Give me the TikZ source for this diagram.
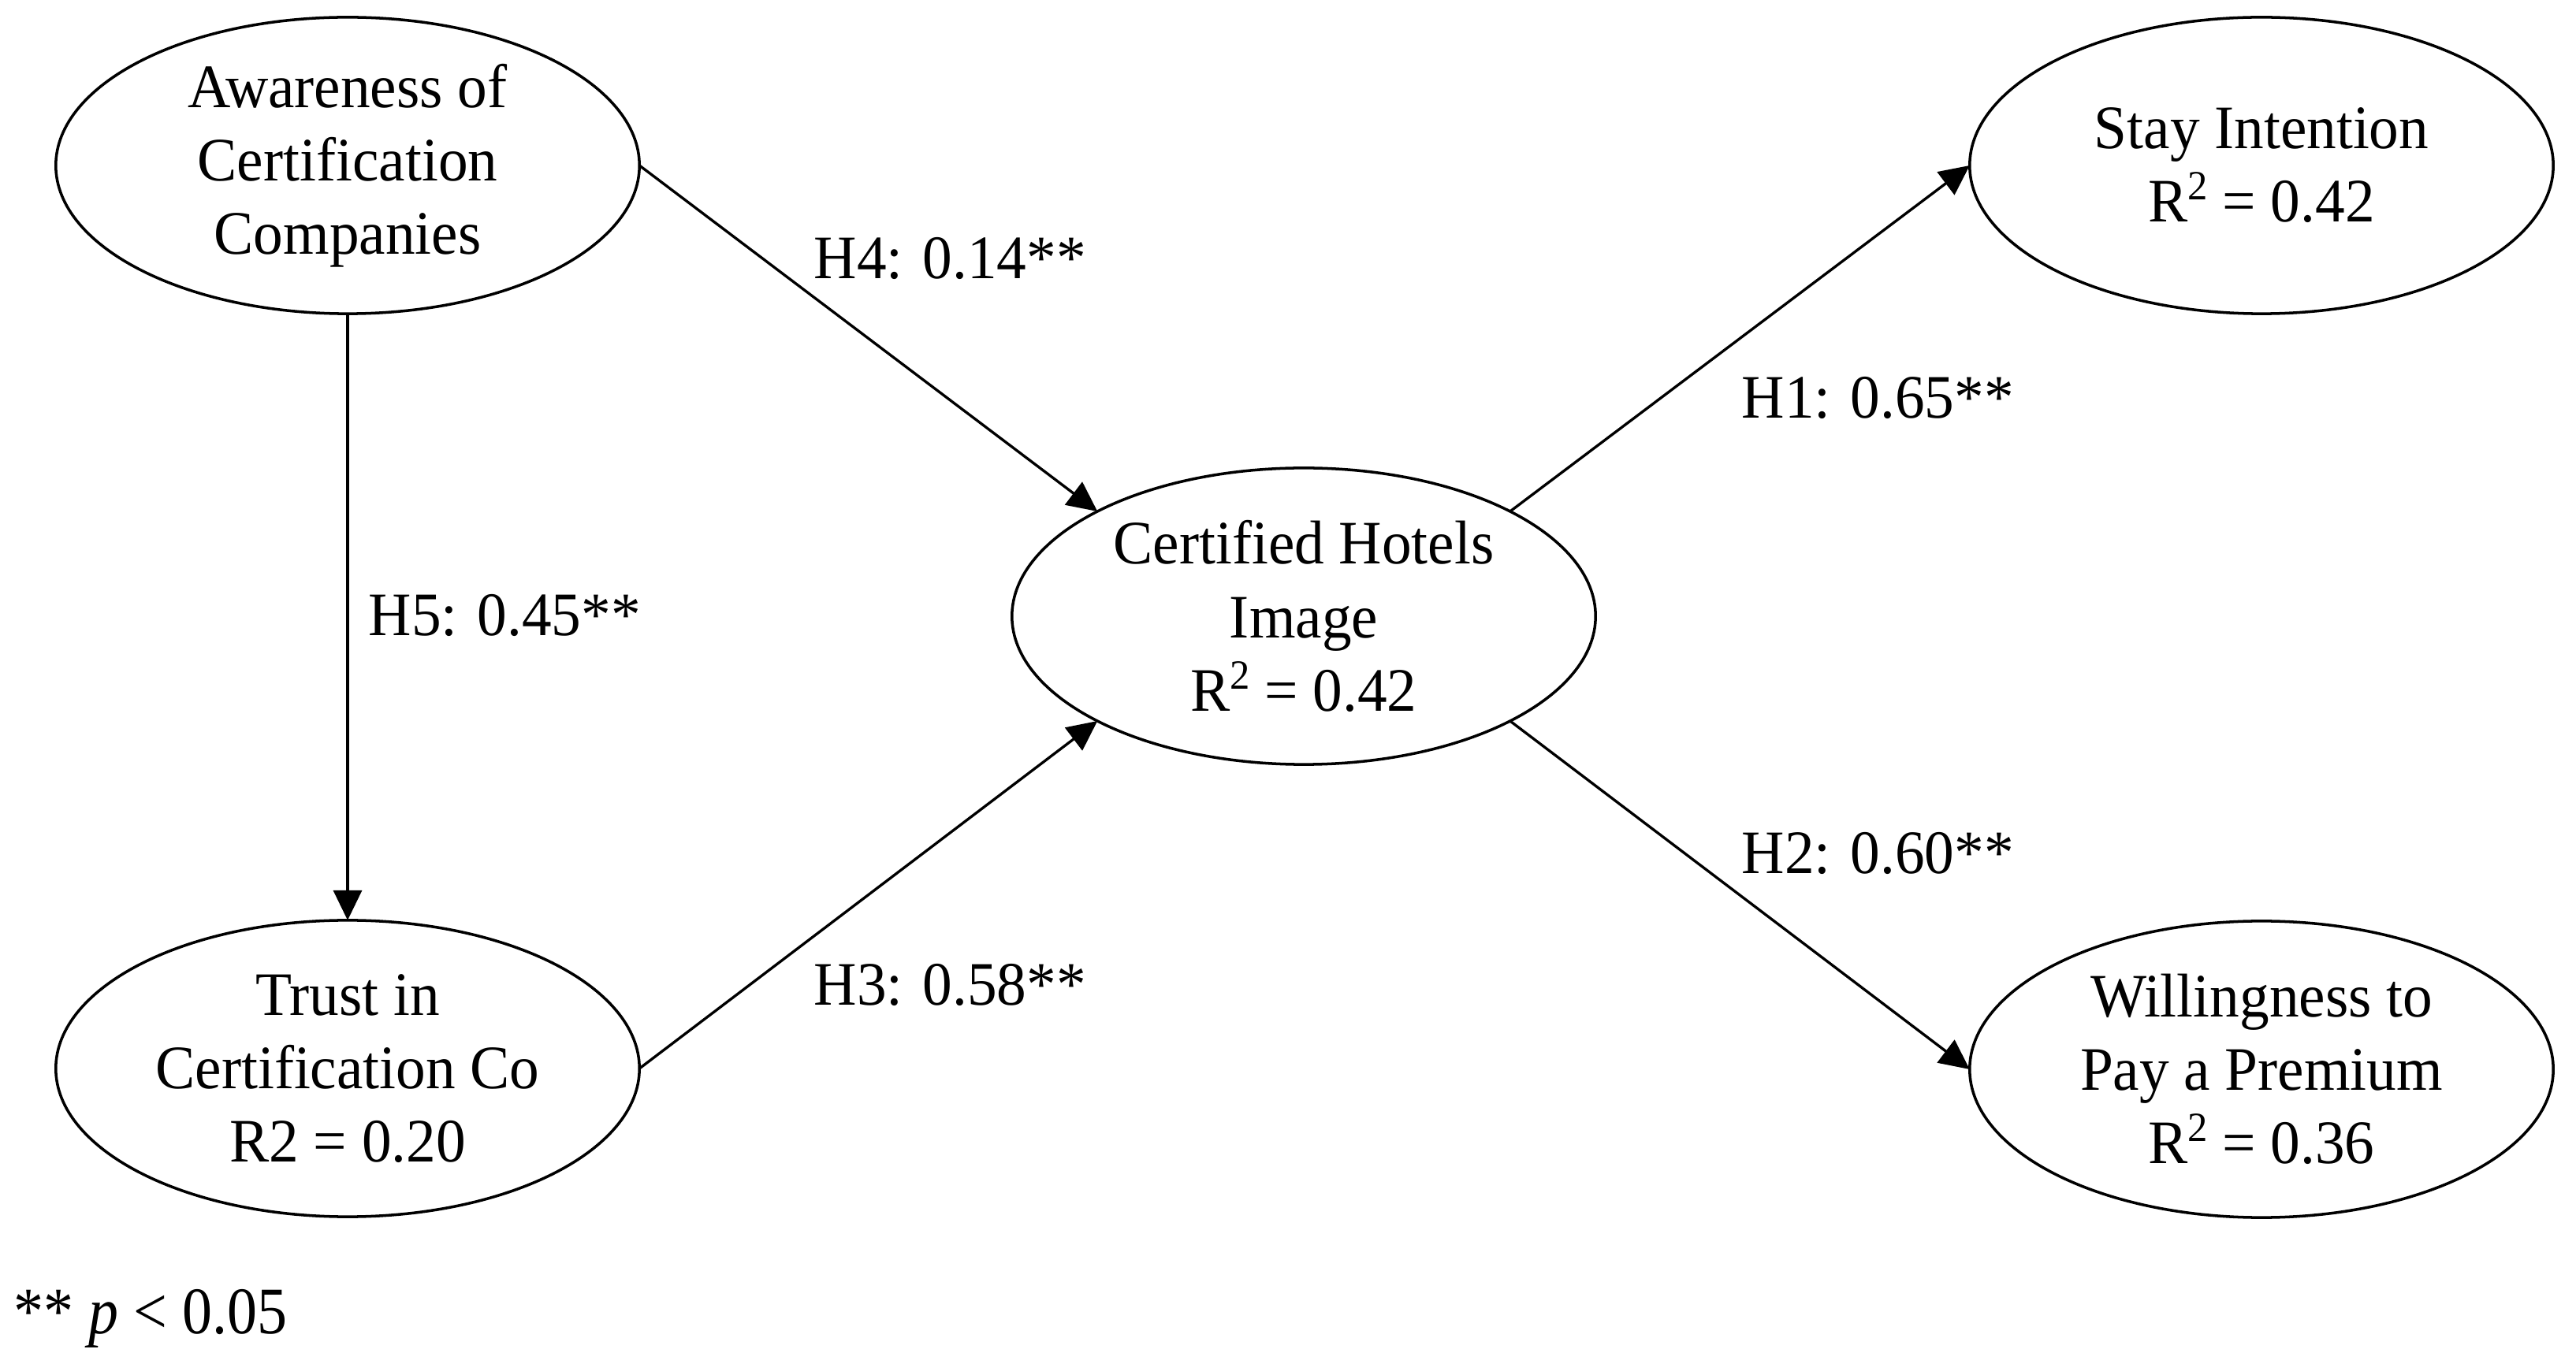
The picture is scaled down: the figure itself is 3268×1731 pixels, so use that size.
\documentclass[tikz,border=0pt]{standalone}
\usepackage{fontspec}
\setmainfont{Liberation Serif}[FakeStretch=0.96]
\newfontfamily\notefont{Liberation Serif}[FakeStretch=0.9]
\newcommand{\sqr}{\raisebox{0.36em}{\fontsize{15}{15}\selectfont 2}}
\usetikzlibrary{shapes.geometric,arrows.meta}
\begin{document}
\begin{tikzpicture}[x=0.01cm,y=-0.01cm,
  construct/.style={ellipse, draw, line width=1pt, minimum width=7.4cm, minimum height=3.76cm,
    inner sep=0pt, outer sep=0pt, align=center, font=\fontsize{22.3}{26.5}\selectfont},
  link/.style={draw, line width=0.95pt, -{Triangle[length=0.38cm,width=0.36cm]}},
  coef/.style={inner sep=0pt, anchor=base west, font=\fontsize{22.3}{26.5}\selectfont}]
\useasboundingbox[fill=white] (0,0) rectangle (3268,1731);

\node[construct] (aw) at (441,210) {Awareness of\\Certification\\Companies};
\node[construct] (tr) at (441,1356) {Trust in\\Certification Co\\R2 = 0.20};
\node[construct] (ch) at (1654,782) {Certified Hotels\\Image\\R\sqr\ = 0.42};
\node[construct] (si) at (2869,210) {Stay Intention\\R\sqr\ = 0.42};
\node[construct] (wp) at (2869,1357) {Willingness to\\Pay a Premium\\R\sqr\ = 0.36};

\draw[link] (aw.south) -- (tr.north);
\draw[link] (aw.east) -- (ch.north west);
\draw[link] (tr.east) -- (ch.south west);
\draw[link] (ch.north east) -- (si.west);
\draw[link] (ch.south east) -- (wp.west);

\node[coef] (h4) at (1032,354) {H4: 0.14**};
\node[coef] (h5) at (467,807) {H5: 0.45**};
\node[coef] (h3) at (1032,1275) {H3: 0.58**};
\node[coef] (h1) at (2209,531) {H1: 0.65**};
\node[coef] (h2) at (2209,1109) {H2: 0.60**};

\node[inner sep=0pt, anchor=base west, font=\notefont\fontsize{24}{28}\selectfont] (note) at (17,1692) {** \textit{p} < 0.05};
\end{tikzpicture}
\end{document}
